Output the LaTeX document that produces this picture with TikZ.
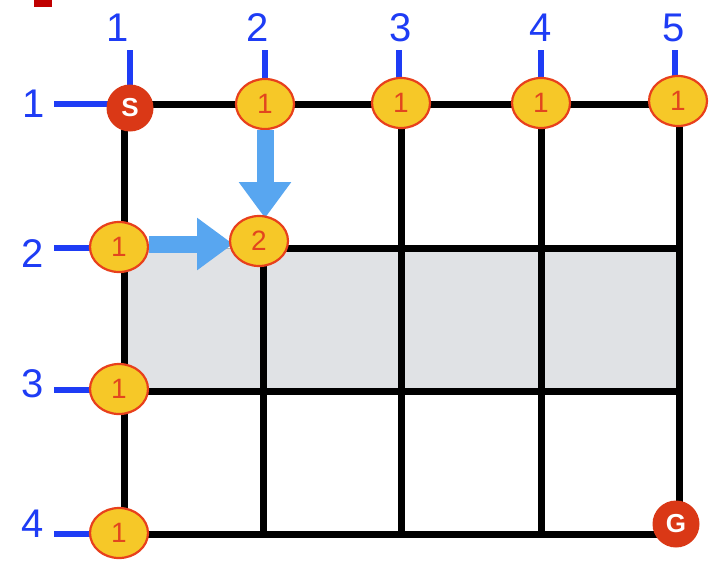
\documentclass[tikz,border=0pt]{standalone}
\usepackage{fontspec}
\setmainfont{Liberation Sans}
\usetikzlibrary{arrows.meta,shapes.geometric}
\definecolor{axisblue}{RGB}{30,60,245}
\definecolor{nodefill}{RGB}{246,200,40}
\definecolor{nodeedge}{RGB}{232,64,28}
\definecolor{nodetext}{RGB}{226,70,30}
\definecolor{sgred}{RGB}{218,56,22}
\definecolor{arrowblue}{RGB}{88,166,240}
\definecolor{bandgray}{RGB}{224,226,229}
\definecolor{markred}{RGB}{192,0,0}
\tikzset{
  gridline/.style={line width=7pt, black},
  tick/.style={line width=6pt, axisblue},
  axislabel/.style={text=axisblue, font=\fontsize{40}{40}\selectfont, inner sep=0pt},
  cnode/.style={ellipse, draw=nodeedge, line width=2.2pt, fill=nodefill,
    minimum width=58pt, minimum height=50pt, inner sep=0pt,
    text=nodetext, font=\fontsize{28}{28}\selectfont},
  endnode/.style={circle, fill=sgred, minimum size=47pt, inner sep=0pt,
    text=white, font=\bfseries\fontsize{26}{26}\selectfont},
  bigarrow/.style={line width=17pt, arrowblue, -{Triangle[width=50pt,length=36pt]}}
}
\begin{document}
\begin{tikzpicture}[x=1pt,y=-1pt]
\useasboundingbox (0,0) rectangle (709,560);
\fill[white] (0,0) rectangle (709,560);
\fill[markred] (34,-1) rectangle (52,7);
% grid coordinates
\foreach \c/\x in {1/124,2/263,3/401,4/541,5/679}{
  \foreach \r/\y in {1/104,2/248,3/391,4/534}{
    \coordinate (g\r\c) at (\x,\y);
  }
}
% shaded band
\fill[bandgray] (g21) rectangle (g35);
\draw[gray!60, line width=0.6pt] (g21) rectangle (g35);
% grid lines
\draw[gridline] (g11) -- (g15);
\draw[gridline] (g22) -- (g25);
\draw[gridline] (g31) -- (g35);
\draw[gridline] (g41) -- (g45);
\draw[gridline] (g11) -- (g41);
\draw[gridline] (g22) -- (g42);
\draw[gridline] (g13) -- (g43);
\draw[gridline] (g14) -- (g44);
\draw[gridline] (g15) -- (g45);
% axis labels
\node[axislabel] (t1) at (118,28) {1};
\node[axislabel] (t2) at (258,28) {2};
\node[axislabel] (t3) at (401,28) {3};
\node[axislabel] (t4) at (541,28) {4};
\node[axislabel] (t5) at (674,28) {5};
\node[axislabel] (l1) at (34,104) {1};
\node[axislabel] (l2) at (33,254) {2};
\node[axislabel] (l3) at (33,384) {3};
\node[axislabel] (l4) at (33,524) {4};
% tick starts
\coordinate (a1) at (130,50);
\coordinate (a2) at (265,50);
\coordinate (a3) at (399,50);
\coordinate (a4) at (541,50);
\coordinate (a5) at (675,50);
\coordinate (b1) at (54,104);
\coordinate (b2) at (54,248);
\coordinate (b3) at (54,390);
\coordinate (b4) at (54,534);
% ticks (drawn before nodes)
\draw[tick] (a1) -- (130,90);
\draw[tick] (a2) -- (265,85);
\draw[tick] (a3) -- (399,85);
\draw[tick] (a4) -- (541,85);
\draw[tick] (a5) -- (675,85);
\draw[tick] (b1) -- (110,104);
\draw[tick] (b2) -- (95,248);
\draw[tick] (b3) -- (95,390);
\draw[tick] (b4) -- (95,534);
% nodes
\node[endnode] (S) at (130,108) {S};
\node[cnode] (n12) at (265,104) {1};
\node[cnode] (n13) at (401,103) {1};
\node[cnode] (n14) at (541,103) {1};
\node[cnode] (n15) at (678,101) {1};
\node[cnode] (n21) at (119,247) {1};
\node[cnode] (n31) at (119,389) {1};
\node[cnode] (n41) at (119,533) {1};
\node[endnode] (G) at (676,524) {G};
% arrows
\draw[bigarrow] (n12.south) -- ++(0,88);
\draw[bigarrow] ([yshift=3pt]n21.east) -- ++(84,0);
\node[cnode] (n22) at (259,241) {2};
\end{tikzpicture}
\end{document}
